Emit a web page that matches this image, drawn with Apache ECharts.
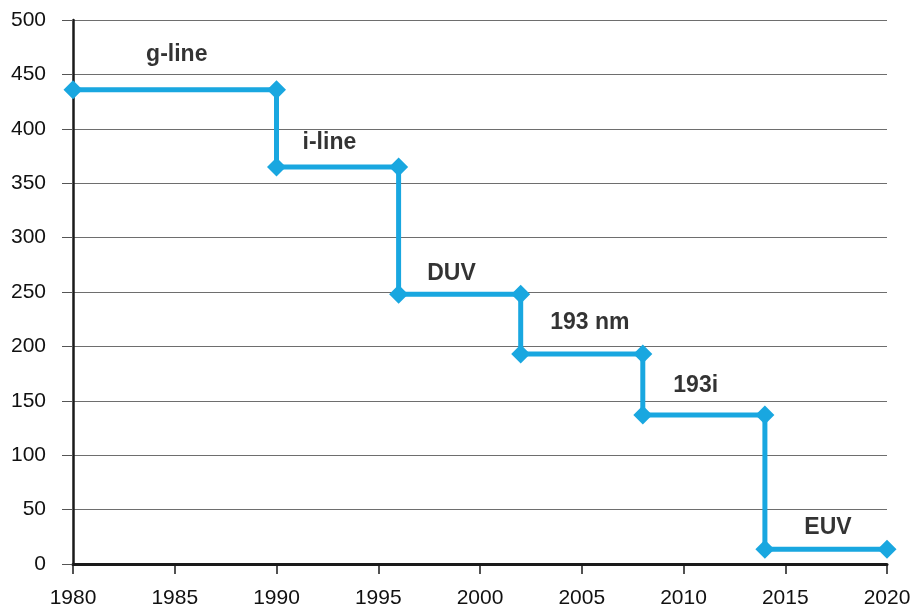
<!DOCTYPE html>
<html>
<head>
<meta charset="utf-8">
<script src="https://cdn.jsdelivr.net/npm/echarts@6/dist/echarts.min.js"></script>
<style>
  html, body { margin: 0; padding: 0; background: #fff; }
  #chart { width: 918px; height: 613px; }
</style>
</head>
<body>
<div id="chart"></div>
<script>
// step points (year, wavelength nm)
var years = [1980, 1990, 1990, 1996, 1996, 2002, 2002, 2008, 2008, 2014, 2014, 2020];
var wavelengths = [436, 436, 365, 365, 248, 248, 193, 193, 137, 137, 13.5, 13.5];

// text labels and where they sit
var labelNames = ['g-line', 'i-line', 'DUV', '193 nm', '193i', 'EUV'];
var labelYears = [1985.1, 1992.6, 1998.6, 2005.4, 2010.6, 2017.1];
var labelValues = [468, 387, 267, 222, 164, 33];

var yTicks = [0, 50, 100, 150, 200, 250, 300, 350, 400, 450, 500];

var chart = echarts.init(document.getElementById('chart'));

var lineData = [];
for (var i = 0; i < years.length; i++) {
  lineData.push([years[i], wavelengths[i]]);
}
var textData = [];
for (var j = 0; j < labelNames.length; j++) {
  textData.push({ name: labelNames[j], value: [labelYears[j], labelValues[j]] });
}

var axisFont = { color: '#111', fontSize: 21, fontFamily: 'Liberation Sans, Arial, sans-serif' };

var option = {
  animation: false,
  backgroundColor: '#fff',
  grid: { left: 73, right: 31, top: 20, bottom: 49, containLabel: false },
  xAxis: {
    type: 'value',
    min: 1980, max: 2020, interval: 5,
    axisLine: { show: true, onZero: false, lineStyle: { color: '#1a1a1a', width: 3 } },
    axisTick: { show: true, length: 10, lineStyle: { color: '#1a1a1a', width: 1.5 } },
    axisLabel: Object.assign({ margin: 24, formatter: function (v) { return String(v); } }, axisFont),
    splitLine: { show: false }
  },
  yAxis: {
    type: 'value',
    min: yTicks[0], max: yTicks[yTicks.length - 1], interval: 50,
    axisLine: { show: true, lineStyle: { color: '#1a1a1a', width: 2.5 } },
    axisTick: { show: true, length: 11, lineStyle: { color: '#555', width: 1 } },
    axisLabel: Object.assign({ margin: 27 }, axisFont),
    splitLine: { show: true, lineStyle: { color: '#6e6e6e', width: 1 } }
  },
  series: [
    {
      type: 'line',
      data: lineData,
      symbol: 'diamond',
      symbolSize: 19,
      showAllSymbol: true,
      lineStyle: { color: '#19a7e0', width: 5, join: 'miter' },
      itemStyle: { color: '#19a7e0' },
      z: 3
    },
    {
      type: 'scatter',
      data: textData,
      symbolSize: 0,
      silent: true,
      label: {
        show: true,
        position: 'inside',
        formatter: '{b}',
        color: '#000',
        fontSize: 23,
        fontWeight: 'bold',
        fontFamily: 'Liberation Sans, Arial, sans-serif'
      },
      z: 4
    }
  ]
};

chart.setOption(option);
</script>
</body>
</html>
